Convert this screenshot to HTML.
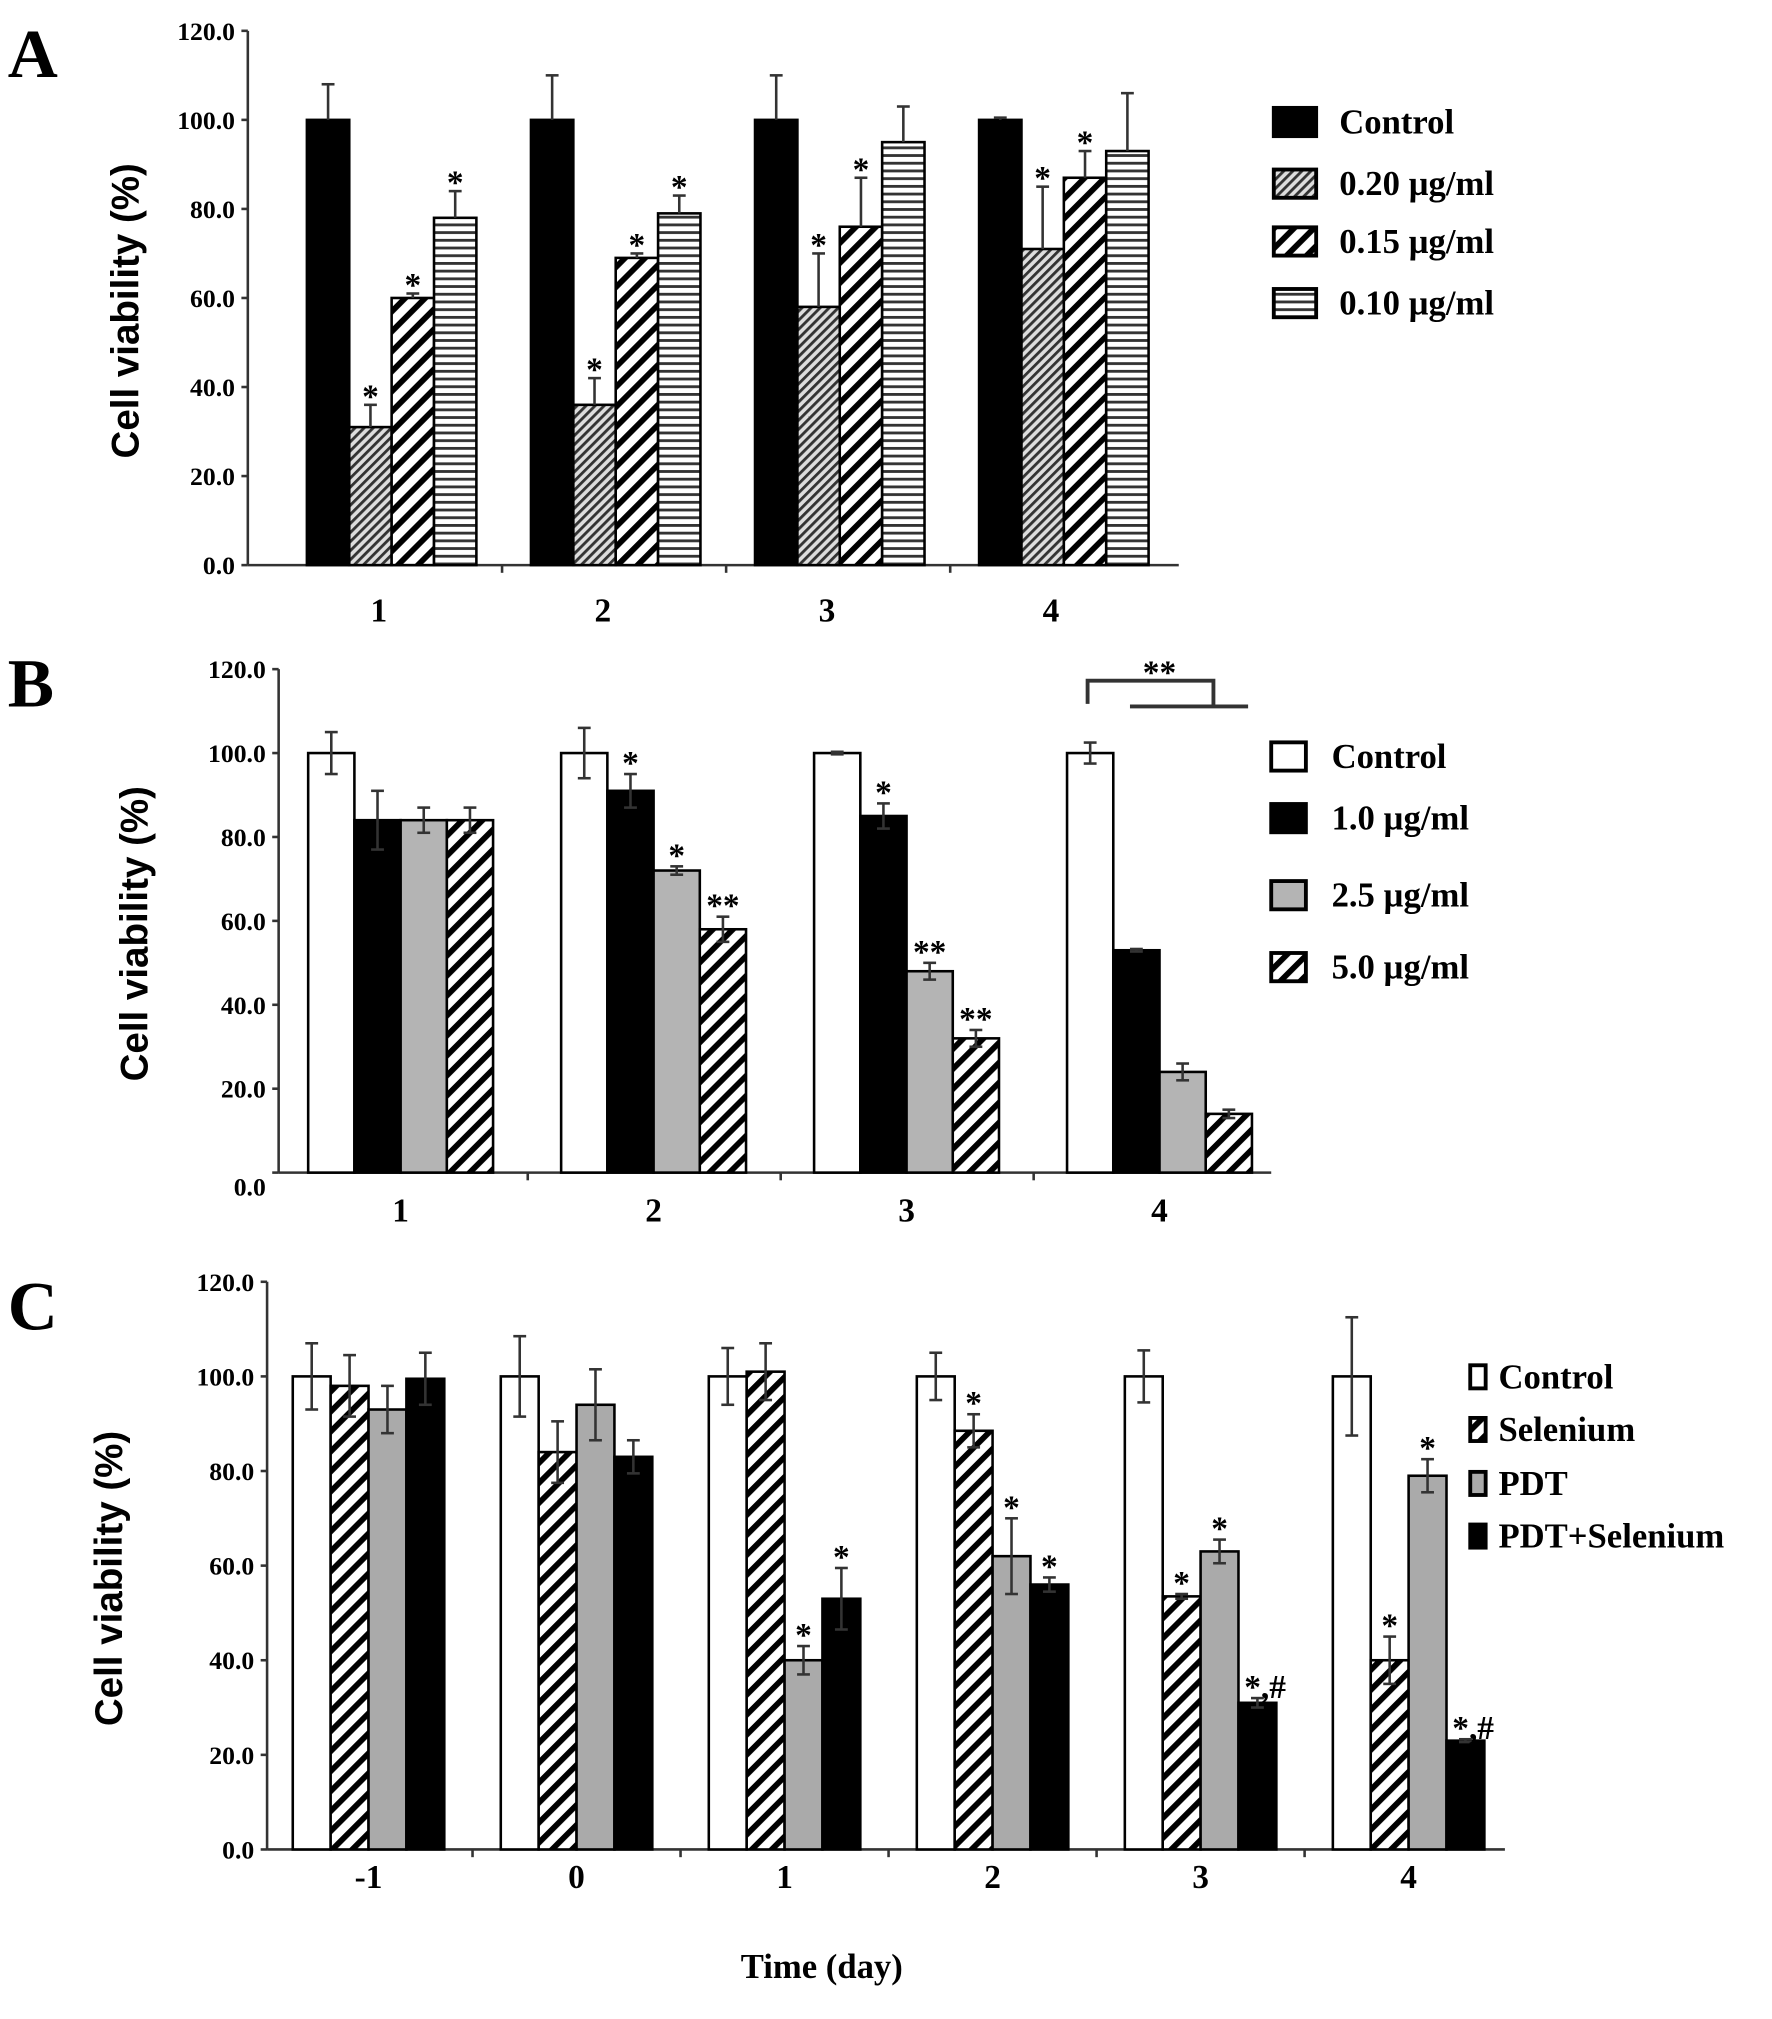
<!DOCTYPE html>
<html><head><meta charset="utf-8"><style>
html,body{margin:0;padding:0;background:#fff;}
svg{display:block;}
text{font-family:"Liberation Serif",serif;font-weight:bold;fill:#000;}
.yt{font-family:"Liberation Sans",sans-serif;font-weight:900;}
</style></head><body>
<svg id="fig" width="1772" height="2019" viewBox="0 0 1380 1572" preserveAspectRatio="none" xmlns="http://www.w3.org/2000/svg">
<defs>
<pattern id="pFine" patternUnits="userSpaceOnUse" width="5" height="5" patternTransform="rotate(45)"><rect width="5" height="5" fill="#ddd"/><rect width="2.2" height="5" fill="#333"/></pattern>
<pattern id="pDiag" patternUnits="userSpaceOnUse" width="11" height="11" patternTransform="rotate(45)"><rect width="11" height="11" fill="#fff"/><rect width="4.5" height="11" fill="#000"/></pattern>
<pattern id="pHor" patternUnits="userSpaceOnUse" width="6" height="6"><rect width="6" height="6" fill="#fff"/><rect width="6" height="2.2" fill="#333"/></pattern>
</defs>
</svg>
<script>
// ---- Panel A data ----
const catsA=["1","2","3","4"];
const seriesA=["Control","0.20 µg/ml","0.15 µg/ml","0.10 µg/ml"];
const valsA_control=[100,100,100,100];
const errA_control=[8,10,10,0.5];
const valsA_020=[31,36,58,71];
const errA_020=[5,6,12,14];
const valsA_015=[60,69,76,87];
const errA_015=[1,1,11,6];
const valsA_010=[78,79,95,93];
const errA_010=[6,4,8,13];
const starsA=[["","*","*","*"],["","*","*","*"],["","*","*",""],["","*","*",""]];
// ---- Panel B data ----
const catsB=["1","2","3","4"];
const seriesB=["Control","1.0 µg/ml","2.5 µg/ml","5.0 µg/ml"];
const valsB_control=[100,100,100,100];
const errB_control=[5,6,0.3,2.5];
const valsB_10=[84,91,85,53];
const errB_10=[7,4,3,0.3];
const valsB_25=[84,72,48,24];
const errB_25=[3,1,2,2];
const valsB_50=[84,58,32,14];
const errB_50=[3,3,2,1];
const starsB=[["","","",""],["","*","*","**"],["","*","**","**"],["","","",""]];
// ---- Panel C data ----
const catsC=["-1","0","1","2","3","4"];
const seriesC=["Control","Selenium","PDT","PDT+Selenium"];
const valsC_control=[100,100,100,100,100,100];
const errC_control=[7,8.5,6,5,5.5,12.5];
const valsC_sel=[98,84,101,88.5,53.5,40];
const errC_sel=[6.5,6.5,6,3.5,0.5,5];
const valsC_pdt=[93,94,40,62,63,79];
const errC_pdt=[5,7.5,3,8,2.5,3.5];
const valsC_ps=[99.5,83,53,56,31,23];
const errC_ps=[5.5,3.5,6.5,1.5,1,0.3];
const starsC=[["","","",""],["","","",""],["","","*","*"],["","*","*","*"],["","*","*","*,#"],["","*","*","*,#"]];
const yTicks=["0.0","20.0","40.0","60.0","80.0","100.0","120.0"];

const svg=document.getElementById('fig');
const NS="http://www.w3.org/2000/svg";
function mk(tag,attrs,parent){const e=document.createElementNS(NS,tag);for(const k in attrs)e.setAttribute(k,attrs[k]);(parent||svg).appendChild(e);return e;}
function txt(s,attrs,parent){const e=mk('text',attrs,parent);e.textContent=s;return e;}

function panel(cfg){
  const g=mk('g',{});
  
  
  const y=v=>cfg.y0-(v/120)*(cfg.y0-cfg.y120);
  const ax=mk('line',{x1:cfg.ax,y1:cfg.y120,x2:cfg.ax,y2:cfg.y0,stroke:'#333','stroke-width':2},g);
  
  
  const xa=mk('line',{x1:cfg.ax,y1:cfg.y0,x2:cfg.axEnd,y2:cfg.y0,stroke:'#333','stroke-width':2},g);
  
  
  yTicks.forEach((t,i)=>{
    const yy=y(i*20);
    mk('line',{x1:cfg.ax-5,y1:yy,x2:cfg.ax,y2:yy,stroke:'#333','stroke-width':2},g);
    const tl=txt(t,{x:cfg.ax-10,y:yy+(i==0?cfg.zeroShift:7),'text-anchor':'end','font-size':20},g);
    
    
  });
  const yt=txt("Cell viability (%)",{class:'yt',x:0,y:0,'text-anchor':'middle','font-size':cfg.ytSize,transform:`translate(${cfg.ytX},${(cfg.y0+cfg.y120)/2+10}) rotate(-90)`},g);
  
  
  const pl=txt(cfg.letter,{x:6,y:cfg.letterY,'font-size':54},g);
  
  
  const n=cfg.cats.length, ns=cfg.vals.length;
  for(let c=0;c<n;c++){
    const gx=cfg.g0+c*cfg.gs;
    for(let s=0;s<ns;s++){
      const x=gx+s*cfg.bw, v=cfg.vals[s][c], e=cfg.errs[s][c];
      const r=mk('rect',{x:x,y:y(v),width:cfg.bw,height:cfg.y0-y(v),fill:cfg.fills[s],stroke:'#000','stroke-width':2},g);
      
      
      const cx=x+cfg.bw/2;
      mk('line',{x1:cx,y1:y(v+e),x2:cx,y2:cfg.both?y(v-e):y(v),stroke:'#333','stroke-width':2},g);
      mk('line',{x1:cx-5,y1:y(v+e),x2:cx+5,y2:y(v+e),stroke:'#333','stroke-width':2},g);
      if(cfg.both) mk('line',{x1:cx-5,y1:y(v-e),x2:cx+5,y2:y(v-e),stroke:'#333','stroke-width':2},g);
      const st=cfg.stars[c][s];
      if(st){const t=txt(st,{x:cx+(st.length>2?6:0),y:y(v+e)-4+cfg.starDy,'text-anchor':'middle','font-size':26,'font-family':'Liberation Sans'},g);
        
        }
    }
    if(c>0) mk('line',{x1:gx-cfg.gap/2,y1:cfg.y0,x2:gx-cfg.gap/2,y2:cfg.y0+6,stroke:'#333','stroke-width':2},g);
    const xl=txt(cfg.cats[c],{x:gx+ns*cfg.bw/2+cfg.xlShift,y:cfg.y0+cfg.xlDy,'text-anchor':'middle','font-size':26},g);
    
    
  }
  cfg.series.forEach((s,i)=>{
    const ly=cfg.legY[i];
    const sw=mk('rect',{x:cfg.legX,y:ly-cfg.legH/2,width:cfg.legW,height:cfg.legH,fill:cfg.fills[i],stroke:'#000','stroke-width':3},g);
    
    
    const t=txt(s,{x:cfg.legX+cfg.legW+cfg.legGap,y:ly+9,'font-size':cfg.legSize},g);
    
    
  });
  return g;
}
panel({name:'panel-a',letter:'A',letterY:60,ax:193,axEnd:918,y0:440,y120:24,g0:239,gs:174.5,bw:33,gap:45,both:false,
  cats:catsA,series:seriesA,vals:[valsA_control,valsA_020,valsA_015,valsA_010],errs:[errA_control,errA_020,errA_015,errA_010],
  stars:starsA,fills:['#000','url(#pFine)','url(#pDiag)','url(#pHor)'],starDy:6,xlDy:44,xlShift:-10,zeroShift:7,
  legX:992,legW:33,legH:22,legGap:18,legSize:27,legY:[95,143,188,236],ytSize:30,ytX:108});
panel({name:'panel-b',letter:'B',letterY:550,ax:217,axEnd:990,y0:913,y120:521,g0:240,gs:197,bw:36,gap:52,both:true,
  cats:catsB,series:seriesB,vals:[valsB_control,valsB_10,valsB_25,valsB_50],errs:[errB_control,errB_10,errB_25,errB_50],
  stars:starsB,fills:['#fff','#000','#b4b4b4','url(#pDiag)'],starDy:4,xlDy:38,xlShift:0,zeroShift:18,
  legX:990,legW:27,legH:22,legGap:20,legSize:27,legY:[589,637,697,753],ytSize:30,ytX:115});
panel({name:'panel-c',letter:'C',letterY:1035,ax:208,axEnd:1172,y0:1440,y120:998,g0:228,gs:162,bw:29.5,gap:44,both:true,
  cats:catsC,series:seriesC,vals:[valsC_control,valsC_sel,valsC_pdt,valsC_ps],errs:[errC_control,errC_sel,errC_pdt,errC_ps],
  stars:starsC,fills:['#fff','url(#pDiag)','#aaa','#000'],starDy:4,xlDy:30,xlShift:0,zeroShift:7,
  legX:1145,legW:12,legH:18,legGap:10,legSize:27,legY:[1072,1113,1155,1196],ytSize:30,ytX:95});
</script>
<script>
const NS2="http://www.w3.org/2000/svg";
const s2=document.getElementById('fig');
const br=document.createElementNS(NS2,'path');
br.setAttribute('d','M847 548 V530 H945 V550 M880 550 H972');
br.setAttribute('fill','none');br.setAttribute('stroke','#333');br.setAttribute('stroke-width','3');


s2.appendChild(br);
const bs=document.createElementNS(NS2,'text');
bs.setAttribute('x','903');bs.setAttribute('y','532');bs.setAttribute('text-anchor','middle');bs.setAttribute('font-size','26');bs.setAttribute('font-family','Liberation Sans');
bs.textContent='**';


s2.appendChild(bs);
const xt=document.createElementNS(NS2,'text');
xt.setAttribute('x','640');xt.setAttribute('y','1540');xt.setAttribute('text-anchor','middle');xt.setAttribute('font-size','27');
xt.textContent='Time (day)';


s2.appendChild(xt);
</script>
</body></html>
